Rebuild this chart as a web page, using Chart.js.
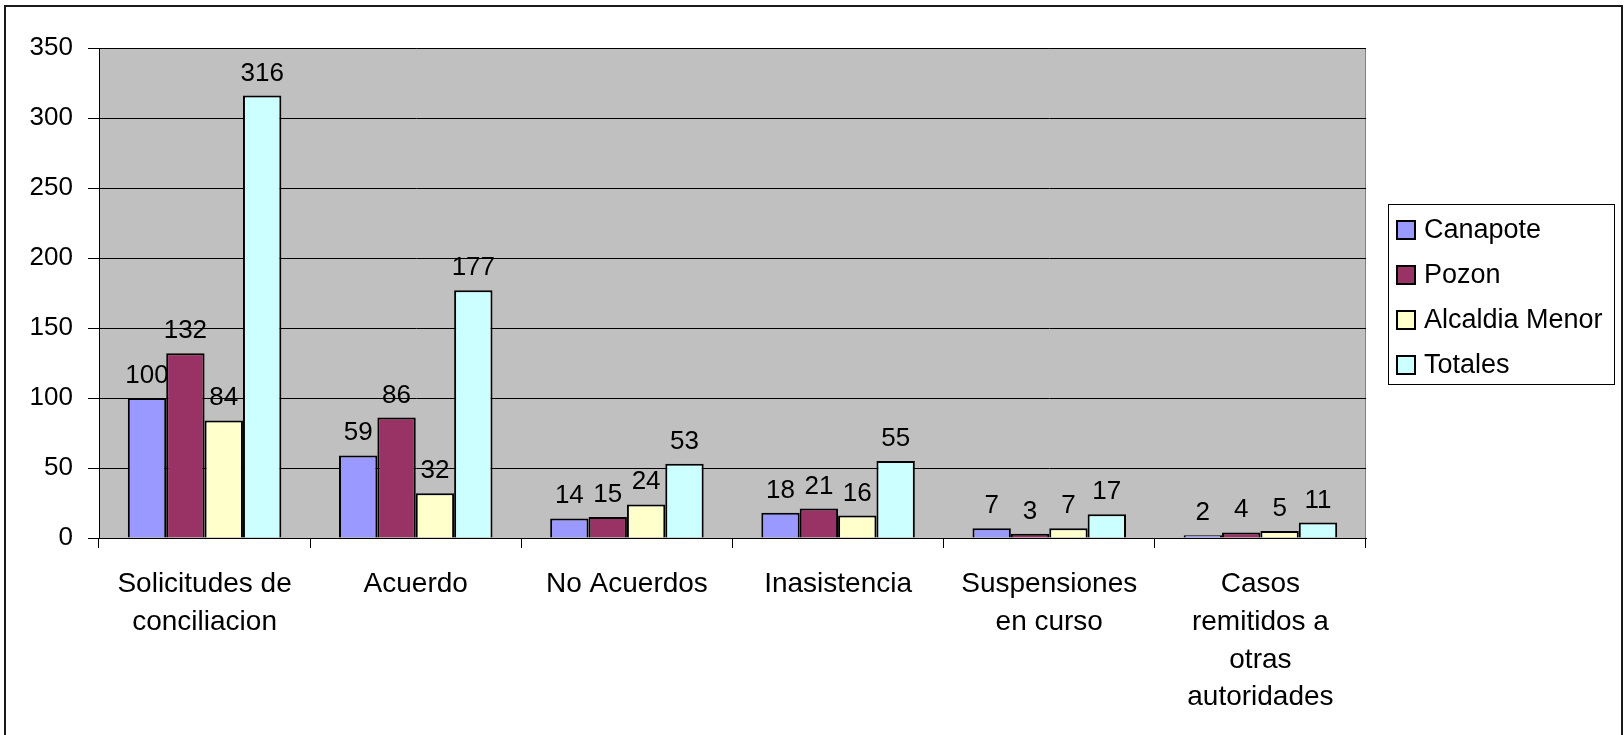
<!DOCTYPE html>
<html>
<head>
<meta charset="utf-8">
<script src="https://cdn.jsdelivr.net/npm/chart.js@4/dist/chart.umd.min.js"></script>
<style>
  html, body { margin: 0; padding: 0; background: #fff; }
  #wrap { position: relative; width: 1624px; height: 735px; }
</style>
</head>
<body>
<div id="wrap"><canvas id="chart" width="1624" height="735"></canvas></div>
<script>
const categories = [
    ['Solicitudes de', 'conciliacion'],
    'Acuerdo',
    'No Acuerdos',
    'Inasistencia',
    ['Suspensiones', 'en curso'],
    ['Casos', 'remitidos a', 'otras', 'autoridades']
];
const canapote = [100, 59, 14, 18, 7, 2];
const pozon = [132, 86, 15, 21, 3, 4];
const alcaldiaMenor = [84, 32, 24, 16, 7, 5];
const totales = [316, 177, 53, 55, 17, 11];
const yMin = 0;
const yMax = 350;
const yStep = 50;

const FONT = '"Liberation Sans", Arial, sans-serif';

// grey plot background + outer frame
const backdrop = {
    id: 'backdrop',
    beforeDraw(chart) {
        const ctx = chart.ctx;
        const a = chart.chartArea;
        ctx.save();
        ctx.fillStyle = '#c0c0c0';
        ctx.fillRect(a.left, a.top, a.right - a.left, a.bottom - a.top);
        ctx.strokeStyle = '#808080';
        ctx.lineWidth = 1;
        ctx.beginPath();
        ctx.moveTo(a.left, a.top + 0.5);
        ctx.lineTo(a.right - 0.5, a.top + 0.5);
        ctx.lineTo(a.right - 0.5, a.bottom);
        ctx.stroke();
        // frame of the whole picture
        ctx.strokeStyle = '#1a1a1a';
        ctx.lineWidth = 2;
        ctx.beginPath();
        ctx.moveTo(5, 740);
        ctx.lineTo(5, 6);
        ctx.lineTo(1622, 6);
        ctx.lineTo(1622, 740);
        ctx.stroke();
        ctx.restore();
    }
};

// numbers above the bars
const valueLabels = {
    id: 'valueLabels',
    afterDatasetsDraw(chart) {
        const ctx = chart.ctx;
        ctx.save();
        ctx.font = '26px ' + FONT;
        ctx.fillStyle = '#000';
        ctx.textAlign = 'center';
        ctx.textBaseline = 'alphabetic';
        chart.data.datasets.forEach((ds, i) => {
            chart.getDatasetMeta(i).data.forEach((bar, j) => {
                ctx.fillText(String(ds.data[j]), bar.x, bar.y - 15);
            });
        });
        ctx.restore();
    }
};

// boxed legend on the right, like the spreadsheet one
const boxLegend = {
    id: 'boxLegend',
    afterDraw(chart) {
        const ctx = chart.ctx;
        const left = 1388, top = 204, w = 226, h = 180;
        ctx.save();
        ctx.fillStyle = '#fff';
        ctx.fillRect(left, top, w, h);
        ctx.strokeStyle = '#000';
        ctx.lineWidth = 1;
        ctx.strokeRect(left + 0.5, top + 0.5, w, h);
        ctx.font = '27px ' + FONT;
        ctx.textBaseline = 'middle';
        ctx.textAlign = 'left';
        chart.data.datasets.forEach((ds, i) => {
            const cy = 230 + i * 45;
            ctx.fillStyle = ds.backgroundColor;
            ctx.fillRect(1397, cy - 9, 18, 18);
            ctx.lineWidth = 2;
            ctx.strokeStyle = '#000';
            ctx.strokeRect(1397, cy - 9, 18, 18);
            ctx.fillStyle = '#000';
            ctx.fillText(ds.label, 1424, cy + 1);
        });
        ctx.restore();
    }
};

new Chart(document.getElementById('chart'), {
    type: 'bar',
    data: {
        labels: categories,
        datasets: [
            { label: 'Canapote', data: canapote, backgroundColor: '#9999ff' },
            { label: 'Pozon', data: pozon, backgroundColor: '#993366' },
            { label: 'Alcaldia Menor', data: alcaldiaMenor, backgroundColor: '#ffffcc' },
            { label: 'Totales', data: totales, backgroundColor: '#ccffff' }
        ]
    },
    options: {
        responsive: false,
        animation: false,
        layout: { padding: { left: 0, top: 48, right: 258, bottom: 0 } },
        datasets: {
            bar: {
                borderColor: '#000',
                borderWidth: 2,
                categoryPercentage: 0.727,
                barPercentage: 1
            }
        },
        plugins: {
            legend: { display: false },
            tooltip: { enabled: false }
        },
        scales: {
            x: {
                afterFit(scale) { scale.height = 197; },
                grid: {
                    offset: true,
                    drawOnChartArea: false,
                    color: '#000',
                    tickLength: 10
                },
                border: { color: '#000', width: 1 },
                ticks: {
                    color: '#000',
                    padding: 18,
                    maxRotation: 0,
                    autoSkip: false,
                    font: { family: FONT, size: 28, lineHeight: 1.34 }
                }
            },
            y: {
                min: yMin,
                max: yMax,
                afterFit(scale) { scale.width = 99; },
                grid: { color: '#000', tickLength: 11 },
                border: { color: '#000', width: 1 },
                ticks: {
                    stepSize: yStep,
                    color: '#000',
                    padding: 15,
                    font: { family: FONT, size: 26 }
                }
            }
        }
    },
    plugins: [backdrop, valueLabels, boxLegend]
});
</script>
</body>
</html>
